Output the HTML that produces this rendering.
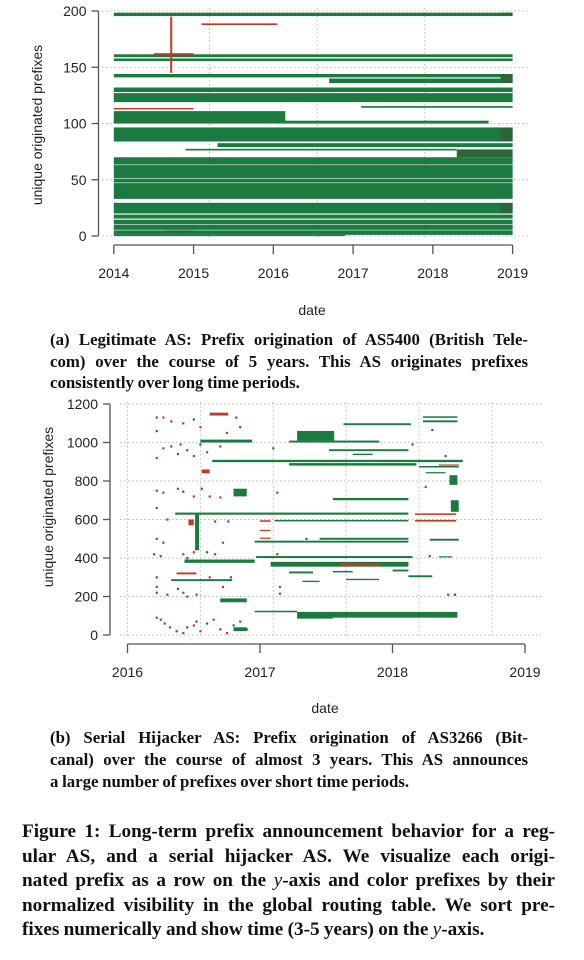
<!DOCTYPE html>
<html><head><meta charset="utf-8"><style>
body{margin:0;background:#fff;width:584px;height:960px;overflow:hidden;position:relative}
svg{position:absolute;left:0;top:0}
.cap{position:absolute;font-family:"Liberation Serif",serif;font-weight:bold;color:#111}
.cap div{text-align:justify;text-align-last:justify;white-space:nowrap;word-spacing:-0.5px}
.cap div.last{text-align-last:left}
</style></head><body>
<svg id="chart" width="584" height="960"></svg>

<div class="cap" style="left:50px;top:329px;width:478px;font-size:16.8px;line-height:21.5px">
<div>(a) Legitimate AS: Prefix origination of AS5400 (British Tele-</div>
<div>com) over the course of 5 years. This AS originates prefixes</div>
<div class="last">consistently over long time periods.</div>
</div>
<div class="cap" style="left:50px;top:727px;width:478px;font-size:16.8px;line-height:22px">
<div>(b) Serial Hijacker AS: Prefix origination of AS3266 (Bit-</div>
<div>canal) over the course of almost 3 years. This AS announces</div>
<div class="last">a large number of prefixes over short time periods.</div>
</div>
<div class="cap" style="left:22px;top:820px;width:533px;font-size:19.2px;line-height:24.5px">
<div>Figure 1: Long-term prefix announcement behavior for a reg-</div>
<div>ular AS, and a serial hijacker AS. We visualize each origi-</div>
<div>nated prefix as a row on the <i style="font-weight:normal">y</i>-axis and color prefixes by their</div>
<div>normalized visibility in the global routing table. We sort pre-</div>
<div class="last">fixes numerically and show time (3-5 years) on the <i style="font-weight:normal">y</i>-axis.</div>
</div>

<script>
// ---- Chart A data: [v0, v1, t0, t1, colorCode] ----
const aYTicks = [0, 50, 100, 150, 200];
const aXTicks = [2014, 2015, 2016, 2017, 2018, 2019];
const aGridX = [2015.2, 2016.55, 2017.9];
const aBands = [
 [195.5,198.5,2014,2019,'g'],[196,198.5,2018.85,2019,'d'],
 [159,161.5,2014,2019,'g'],[155.5,157.8,2014,2019,'g'],
 [141,144,2014,2019,'g'],[136,140,2016.7,2019,'g'],[136,144,2018.85,2019,'d'],
 [128,132,2014,2019,'g'],[119,127,2014,2019,'g'],[114,115.5,2017.1,2019,'g'],
 [100,111,2014,2016.15,'g'],[100,102.5,2014,2018.7,'g'],
 [84,96.5,2014,2019,'g'],[84,96,2018.85,2019,'d'],[79,82.5,2015.3,2019,'g'],
 [76,77.5,2014.9,2018.3,'g'],[70,77,2018.3,2019,'d'],
 [63.5,70,2014,2019,'g'],[51.5,63,2014,2019,'g'],[47.5,51,2014,2019,'g'],[33,47,2014,2019,'g'],
 [20,29.5,2014,2019,'g'],[20,29,2018.85,2019,'d'],[15.5,19,2014,2019,'g'],[10.5,14.5,2014,2019,'g'],
 [5.5,10,2014,2019,'g'],[1,5,2014,2019,'g'],[0,1,2014,2016.9,'g'],
 [187.5,189,2015.1,2016.05,'r'],[161,162.5,2014.5,2015,'r'],[112.5,113.8,2014,2015,'r'],
 [4,5,2014.65,2015,'d']
];
const aVLines = [[145,195,2014.72,'r']];

// ---- Chart B data ----
const bYTicks = [0, 200, 400, 600, 800, 1000, 1200];
const bXTicks = [2016, 2017, 2018, 2019];
const bGridX = [2016, 2016.55, 2017.1, 2017.65, 2018.2, 2018.75];
const bBands = [
 [1000,1015,2016.55,2016.94,'g'],[898,910,2016.64,2018.53,'g'],[880,893,2017.22,2018.18,'g'],
 [1090,1100,2017.63,2018.14,'g'],[1128,1136,2018.23,2018.49,'g'],[1105,1115,2018.23,2018.49,'g'],
 [1010,1060,2017.28,2017.56,'g'],[1000,1010,2017.22,2017.9,'g'],[955,965,2017.52,2018.12,'g'],
 [935,942,2017.7,2017.85,'g'],[870,878,2018.2,2018.5,'g'],[880,886,2018.35,2018.5,'r'],
 [840,846,2018.25,2018.4,'g'],[780,830,2018.43,2018.49,'g'],
 [625,636,2016.36,2018.12,'g'],[624,632,2018.17,2018.48,'r'],[640,700,2018.44,2018.5,'g'],
 [590,598,2017.11,2018.12,'g'],[589,598,2018.17,2018.48,'r'],[588,596,2017.0,2017.08,'r'],
 [540,546,2017.0,2017.08,'r'],[500,506,2017.0,2017.08,'r'],
 [480,490,2016.96,2018.12,'g'],[495,505,2017.45,2018.12,'g'],[490,500,2018.28,2018.5,'g'],
 [700,712,2017.55,2018.12,'g'],
 [400,410,2016.97,2018.15,'g'],[403,409,2018.35,2018.45,'g'],
 [375,392,2016.43,2016.96,'g'],[355,380,2017.08,2018.12,'g'],[360,372,2017.6,2017.9,'r'],
 [320,330,2017.22,2017.4,'g'],[325,333,2017.55,2017.7,'g'],[285,292,2017.65,2017.9,'g'],
 [275,282,2017.32,2017.45,'g'],[330,340,2018.0,2018.12,'g'],[300,310,2018.12,2018.3,'g'],
 [90,120,2017.28,2018.49,'g'],[118,126,2016.96,2017.28,'g'],[85,95,2017.28,2017.55,'g'],
 [280,290,2016.33,2016.79,'g'],[315,325,2016.37,2016.52,'r'],[440,630,2016.51,2016.54,'g'],
 [570,600,2016.46,2016.5,'r'],[720,760,2016.8,2016.9,'g'],[1140,1155,2016.62,2016.76,'r'],
 [840,860,2016.56,2016.62,'r'],[170,190,2016.7,2016.9,'g'],[20,40,2016.8,2016.9,'g']
];
const bDots = [
 [2016.22,1130,'g'],[2016.27,1130,'r'],[2016.33,1110,'g'],[2016.42,1100,'r'],[2016.5,1120,'g'],[2016.55,1080,'r'],[2016.22,1060,'g'],[2016.27,970,'r'],[2016.33,980,'g'],[2016.4,990,'r'],[2016.45,960,'g'],[2016.5,930,'r'],[2016.55,990,'g'],[2016.22,920,'r'],[2016.38,940,'g'],[2016.6,950,'r'],[2016.7,980,'g'],[2016.75,1050,'r'],[2016.82,1130,'g'],[2016.85,1080,'g'],
 [2016.22,750,'g'],[2016.27,740,'r'],[2016.38,760,'r'],[2016.42,745,'g'],[2016.5,720,'r'],[2016.56,760,'g'],[2016.62,720,'r'],[2016.7,715,'r'],[2016.22,660,'g'],[2016.3,600,'r'],[2016.66,590,'r'],[2016.76,590,'g'],
 [2016.22,500,'r'],[2016.27,480,'g'],[2016.2,420,'g'],[2016.25,410,'r'],[2016.42,420,'r'],[2016.45,400,'g'],[2016.5,430,'r'],[2016.6,430,'g'],[2016.66,420,'r'],[2016.72,480,'r'],
 [2016.22,300,'g'],[2016.22,250,'r'],[2016.22,220,'g'],[2016.3,210,'r'],[2016.38,240,'g'],[2016.42,220,'r'],[2016.45,200,'g'],[2016.52,210,'r'],[2016.62,300,'r'],[2016.72,250,'r'],[2016.78,300,'g'],
 [2016.22,90,'r'],[2016.25,80,'g'],[2016.28,60,'g'],[2016.32,40,'r'],[2016.37,20,'g'],[2016.42,10,'r'],[2016.45,40,'g'],[2016.5,50,'r'],[2016.52,70,'g'],[2016.55,20,'r'],[2016.6,60,'g'],[2016.65,80,'r'],[2016.7,30,'g'],[2016.75,10,'r'],[2016.8,50,'g'],[2016.85,70,'r'],[2016.9,30,'g'],
 [2017.1,970,'g'],[2017.13,740,'r'],[2017.13,420,'r'],[2017.15,250,'r'],[2017.15,215,'r'],[2017.35,500,'g'],[2018.15,990,'g'],[2018.3,1065,'g'],[2018.25,770,'r'],[2018.4,930,'g'],[2018.42,210,'r'],[2018.47,210,'g'],[2018.28,410,'r']
];

const NS='http://www.w3.org/2000/svg';
const svg=document.getElementById('chart');
const COL={g:'#1a7a40',d:'#2b6637',r:'#c23a22'};
function mk(tag,attrs,parent){const e=document.createElementNS(NS,tag);for(const k in attrs)e.setAttribute(k,attrs[k]);(parent||svg).appendChild(e);return e;}

function drawChart(cfg){
 const g=mk('g',{});
 
 
 const X=t=>cfg.x0+(t-cfg.t0)*(cfg.x1-cfg.x0)/(cfg.t1-cfg.t0);
 const Y=v=>cfg.y0-(v-cfg.v0)*(cfg.y0-cfg.y1)/(cfg.v1-cfg.v0);
 cfg.yTicks.forEach(v=>{const l=mk('line',{x1:cfg.gx0,x2:cfg.gx1,y1:Y(v),y2:Y(v),stroke:'#bbb','stroke-width':1,'stroke-dasharray':'1.5,2.5'},g);});
 cfg.gridX.forEach(t=>{const l=mk('line',{x1:X(t),x2:X(t),y1:cfg.gy0,y2:cfg.gy1,stroke:'#bbb','stroke-width':1,'stroke-dasharray':'1.5,2.5'},g);});
 cfg.bands.forEach(b=>{const y1=Y(b[1]),y2=Y(b[0]);const r=mk('rect',{x:X(b[2]),y:y1,width:Math.max(1,X(b[3])-X(b[2])),height:Math.max(1.2,y2-y1),fill:COL[b[4]]},g);});
 (cfg.vlines||[]).forEach(b=>{const r=mk('rect',{x:X(b[2])-1,y:Y(b[1]),width:2,height:Y(b[0])-Y(b[1]),fill:COL[b[3]]},g);});
 (cfg.dots||[]).forEach(d=>{const c=mk('rect',{x:X(d[0])-1,y:Y(d[1])-1,width:2.2,height:2.2,fill:COL[d[2]]},g);});
 const ya=mk('line',{x1:cfg.ax,x2:cfg.ax,y1:Y(cfg.yTicks[0]),y2:Y(cfg.yTicks[cfg.yTicks.length-1]),stroke:'#555','stroke-width':1.3},g);
 
 cfg.yTicks.forEach(v=>{mk('line',{x1:cfg.ax-7,x2:cfg.ax,y1:Y(v),y2:Y(v),stroke:'#555','stroke-width':1.3},g);
  const t=mk('text',{x:cfg.ax-12,y:Y(v)+5,'text-anchor':'end','font-family':'Liberation Sans, sans-serif','font-size':14,fill:'#222'},g);t.textContent=v;});
 const xa=mk('line',{x1:X(cfg.xTicks[0]),x2:X(cfg.xTicks[cfg.xTicks.length-1]),y1:cfg.ay,y2:cfg.ay,stroke:'#555','stroke-width':1.3},g);
 
 cfg.xTicks.forEach(v=>{mk('line',{x1:X(v),x2:X(v),y1:cfg.ay,y2:cfg.ay+9,stroke:'#555','stroke-width':1.3},g);
  const t=mk('text',{x:X(v),y:cfg.ay+33,'text-anchor':'middle','font-family':'Liberation Sans, sans-serif','font-size':14,fill:'#222'},g);t.textContent=v;});
 const yt=mk('text',{x:0,y:0,transform:`translate(${cfg.ytx},${cfg.yty}) rotate(-90)`,'text-anchor':'middle','font-family':'Liberation Sans, sans-serif','font-size':14,fill:'#222'},g);
 yt.textContent='unique originated prefixes';
 const xt=mk('text',{x:cfg.xtx,y:cfg.xty,'text-anchor':'middle','font-family':'Liberation Sans, sans-serif','font-size':14,fill:'#222'},g);
 xt.textContent='date';
}

drawChart({name:'chart-a',x0:113.8,x1:512.6,t0:2014,t1:2019,y0:236,y1:11,v0:0,v1:200,
 yTicks:aYTicks,xTicks:aXTicks,gridX:aGridX,bands:aBands,vlines:aVLines,
 gx0:102,gx1:528,gy0:8,gy1:238,ax:98.5,ay:245,ytx:42,yty:125,xtx:312,xty:315});
drawChart({name:'chart-b',x0:127.5,x1:525,t0:2016,t1:2019,y0:635,y1:404,v0:0,v1:1200,
 yTicks:bYTicks,xTicks:bXTicks,gridX:bGridX,bands:bBands,dots:bDots,
 gx0:120,gx1:541,gy0:402,gy1:637,ax:110,ay:644,ytx:53,yty:507,xtx:325,xty:713});
</script>
</body></html>
